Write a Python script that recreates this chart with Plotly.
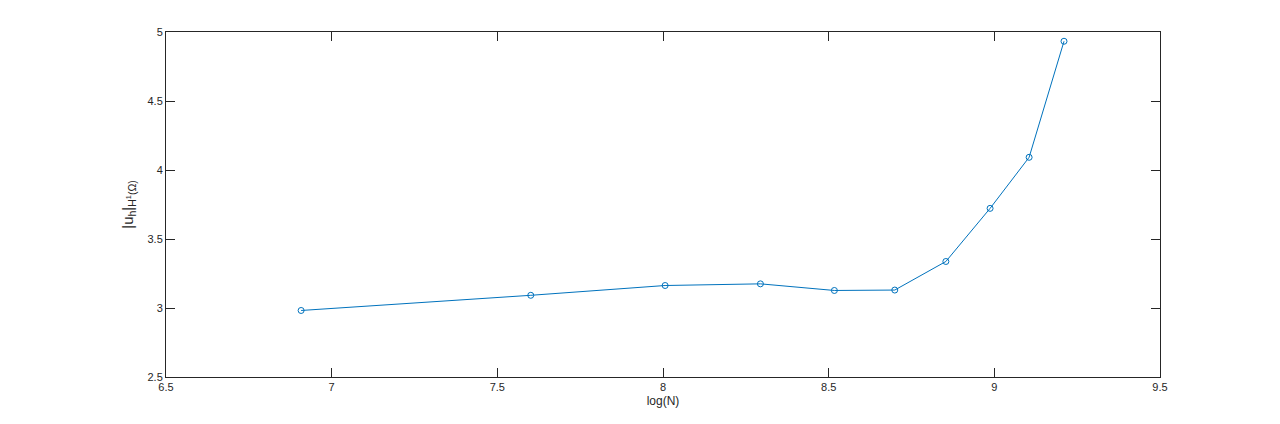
import plotly.graph_objects as go

# log(N) for N = 1000, 2000, ..., 10000
log_n = [6.9078, 7.6009, 8.0064, 8.2940, 8.5172, 8.6995, 8.8537, 8.9872, 9.1050, 9.2103]
h1_norm = [2.982, 3.092, 3.163, 3.175, 3.127, 3.130, 3.337, 3.722, 4.092, 4.933]

x_ticks = [6.5, 7, 7.5, 8, 8.5, 9, 9.5]
y_ticks = [2.5, 3, 3.5, 4, 4.5, 5]

fig = go.Figure()
fig.add_trace(go.Scatter(
    x=log_n, y=h1_norm, mode='lines+markers',
    line=dict(color='#0072BD', width=1),
    marker=dict(symbol='circle-open', size=6, color='#0072BD', line=dict(width=1)),
    showlegend=False,
))

axis_style = dict(
    showline=True, linecolor='#262626', linewidth=1, mirror='ticks',
    ticks='inside', ticklen=9, tickcolor='#262626', showgrid=False, zeroline=False,
    tickfont=dict(size=11, color='#262626'),
)
fig.update_xaxes(range=[6.5, 9.5], tickvals=x_ticks, ticktext=[str(t) for t in x_ticks],
                 title=dict(text='log(N)', standoff=4, font=dict(size=12, color='#262626')), **axis_style)
fig.update_yaxes(range=[2.5, 5], tickvals=y_ticks, ticktext=[str(t) for t in y_ticks],
                 title=dict(text='|u<sub>h</sub>|<sub>H<sup>1</sup>(Ω)</sub>', standoff=10,
                            font=dict(size=15, color='#262626')), **axis_style)

# the page adds an 8px body margin, so the margins are trimmed to keep the box in place
fig.update_layout(
    width=1280, height=424,
    margin=dict(l=158, r=128, t=24, b=55),
    plot_bgcolor='white', paper_bgcolor='white',
    font=dict(family='Liberation Sans, Arial, sans-serif', color='#262626'),
)

fig.write_html("out.html")
